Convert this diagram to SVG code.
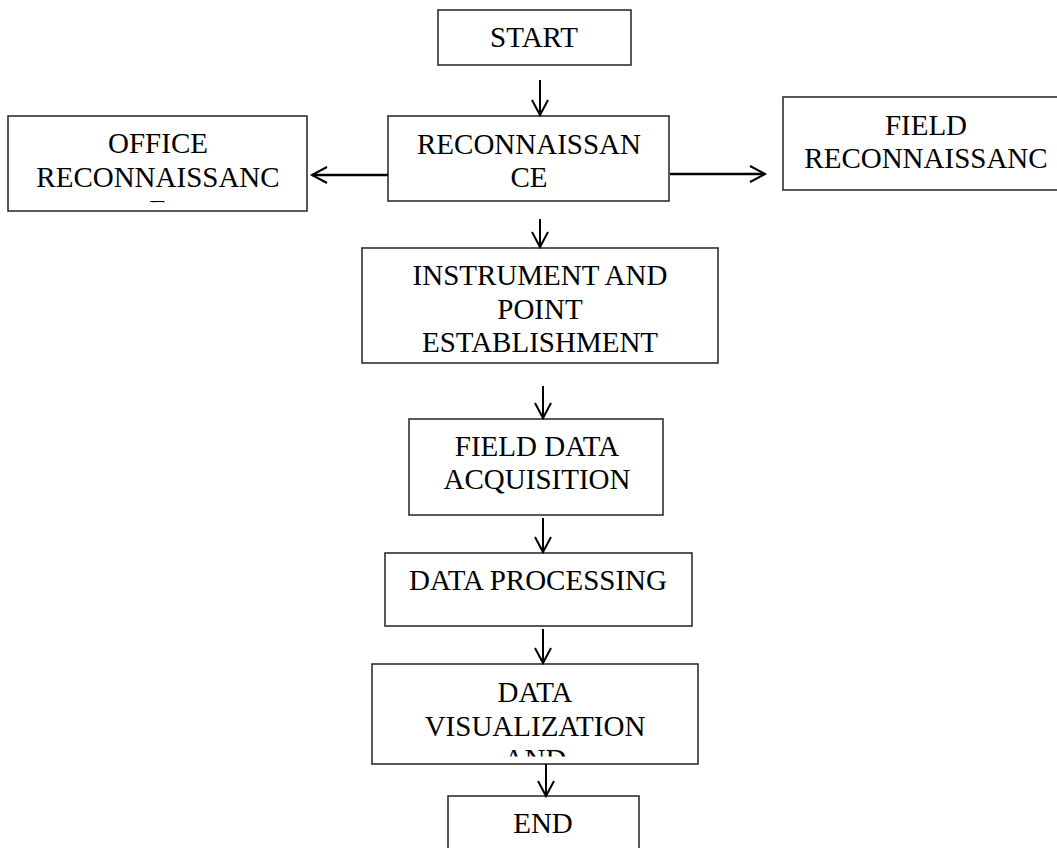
<svg xmlns="http://www.w3.org/2000/svg" width="1057" height="848" viewBox="0 0 1057 848">
<style>
.box{fill:#fff;stroke:#222;stroke-width:1.5}
.t{font-family:"Liberation Serif","Times New Roman",serif;font-size:29px;fill:#000;text-anchor:middle}
.c{fill:none;stroke:#000;stroke-width:2}
.cw{fill:none;stroke:#000;stroke-width:2.5}
</style>
<defs>
<marker id="ah" viewBox="-16 -10 18 20" refX="0" refY="0" markerWidth="18" markerHeight="20" markerUnits="userSpaceOnUse" orient="auto" overflow="visible">
<path d="M-15,-8 L0,0 L-15,8" fill="none" stroke="#000" stroke-width="2"/>
</marker>
<clipPath id="clipOffice"><rect x="8" y="116" width="299" height="86.3"/></clipPath>
<clipPath id="clipViz"><rect x="372" y="664" width="326" height="92.5"/></clipPath>
</defs>
<rect width="1057" height="848" fill="#fff"/>
<g id="start">
<rect class="box" x="438" y="10" width="193" height="55"/>
<text class="t" x="534" y="47">START</text>
</g>
<g id="reconnaissance">
<rect class="box" x="388" y="116" width="281" height="85"/>
<text class="t" x="529" y="154">RECONNAISSAN</text>
<text class="t" x="529" y="187">CE</text>
</g>
<g id="office">
<rect class="box" x="8" y="116" width="299" height="95"/>
<g clip-path="url(#clipOffice)">
<text class="t" x="158" y="153">OFFICE</text>
<text class="t" x="158" y="186.5">RECONNAISSANC</text>
<text class="t" x="158" y="220">E</text>
</g>
</g>
<g id="field">
<rect class="box" x="783" y="97" width="286" height="93"/>
<text class="t" x="926" y="135">FIELD</text>
<text class="t" x="926" y="168">RECONNAISSANC</text>
</g>
<g id="instrument">
<rect class="box" x="362" y="248" width="356" height="115"/>
<text class="t" x="540" y="285">INSTRUMENT AND</text>
<text class="t" x="540" y="319">POINT</text>
<text class="t" x="540" y="352">ESTABLISHMENT</text>
</g>
<g id="fielddata">
<rect class="box" x="409" y="419" width="254" height="96"/>
<text class="t" x="537" y="456">FIELD DATA</text>
<text class="t" x="537" y="489">ACQUISITION</text>
</g>
<g id="processing">
<rect class="box" x="385" y="553" width="307" height="73"/>
<text class="t" x="538" y="590">DATA PROCESSING</text>
</g>
<g id="visualization">
<rect class="box" x="372" y="664" width="326" height="100"/>
<g clip-path="url(#clipViz)">
<text class="t" x="535" y="702">DATA</text>
<text class="t" x="535" y="735.5">VISUALIZATION</text>
<text class="t" x="535" y="769">AND</text>
</g>
</g>
<g id="end">
<rect class="box" x="448" y="796" width="191" height="70"/>
<text class="t" x="543" y="833">END</text>
</g>
<g id="connectors">
<line class="c" x1="540" y1="80" x2="540" y2="115" marker-end="url(#ah)"/>
<line class="cw" x1="388" y1="175" x2="312" y2="175" marker-end="url(#ah)"/>
<line class="cw" x1="670" y1="174" x2="765" y2="174" marker-end="url(#ah)"/>
<line class="c" x1="540" y1="219" x2="540" y2="247" marker-end="url(#ah)"/>
<line class="c" x1="543" y1="386" x2="543" y2="418" marker-end="url(#ah)"/>
<line class="c" x1="543" y1="518" x2="543" y2="552" marker-end="url(#ah)"/>
<line class="c" x1="543" y1="629" x2="543" y2="663" marker-end="url(#ah)"/>
<line class="c" x1="546" y1="764" x2="546" y2="796" marker-end="url(#ah)"/>
</g>
</svg>
